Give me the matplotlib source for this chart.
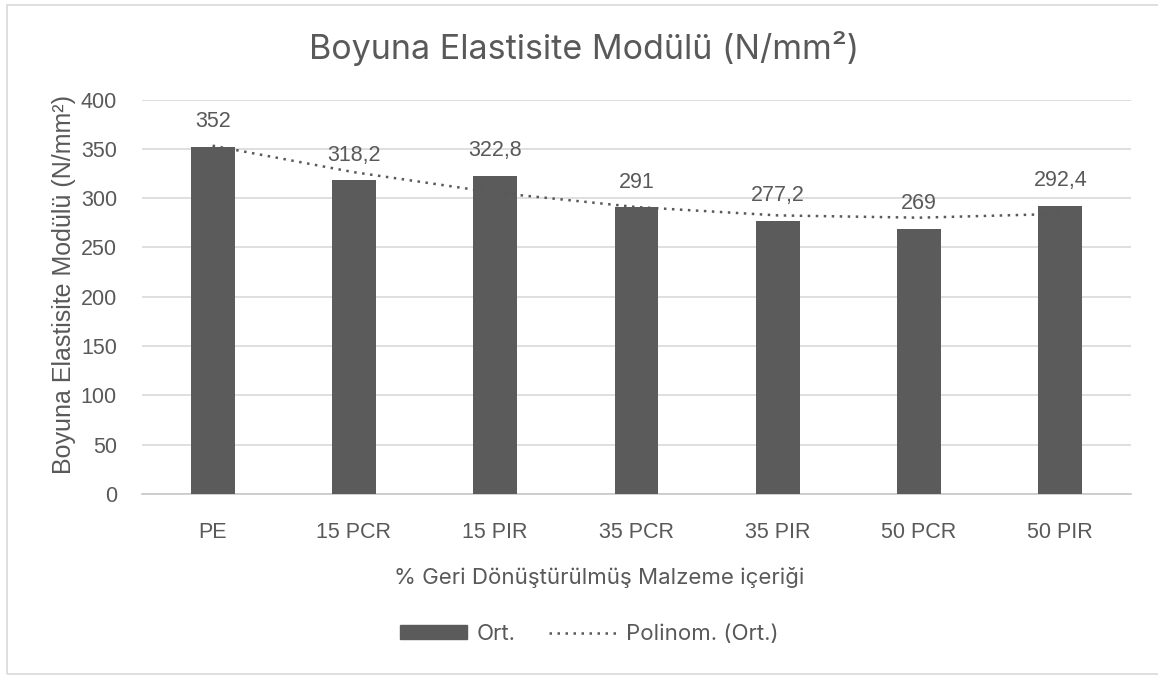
import numpy as np
import matplotlib
matplotlib.use("Agg")
import matplotlib.pyplot as plt
from matplotlib.patches import Rectangle
from matplotlib.lines import Line2D

# Data
categories = ["PE", "15 PCR", "15 PIR", "35 PCR", "35 PIR", "50 PCR", "50 PIR"]
ort_values = [352, 318.2, 322.8, 291, 277.2, 269, 292.4]
value_labels = ["352", "318,2", "322,8", "291", "277,2", "269", "292,4"]
y_ticks = [0, 50, 100, 150, 200, 250, 300, 350, 400]

title_text = "Boyuna Elastisite Modülü (N/mm²)"
y_label_text = "Boyuna Elastisite Modülü (N/mm²)"
x_label_text = "% Geri Dönüştürülmüş Malzeme içeriği"
legend_labels = ["Ort.", "Polinom. (Ort.)"]

TEXT = "#595959"
BAR = "#5b5b5b"
GRID = "#d9d9d9"
UI_FONT = ["Inter", "DejaVu Sans"]
NUM_FONT = ["Liberation Sans", "DejaVu Sans"]

fig = plt.figure(figsize=(11.58, 6.77), dpi=100)
fig.patch.set_facecolor("white")

# chart frame
fig.add_artist(Rectangle((7.5 / 1158, 3 / 677), 1.2, 669 / 677,
                         transform=fig.transFigure, fill=False,
                         edgecolor="#d9d9d9", linewidth=1.2))

ax = fig.add_axes([142 / 1158, 1 - 494 / 677, (1131 - 142) / 1158, (494 - 99.5) / 677])

x = np.arange(1, len(categories) + 1)
ax.bar(x, ort_values, width=0.31, color=BAR, zorder=3)

# second-order polynomial trendline through the averages
coef = np.polyfit(x, ort_values, 2)
trend = np.polyval(coef, x)
ax.plot(x, trend, linestyle=(0, (1, 2.2)), color=TEXT, linewidth=1.8, zorder=4)

for xi, v, lab in zip(x, ort_values, value_labels):
    ax.annotate(lab, (xi, v), xytext=(0, 18), textcoords="offset points",
                ha="center", va="center", fontsize=15.5, color=TEXT,
                family=NUM_FONT, zorder=5)

ax.set_xlim(0.5, len(categories) + 0.5)
ax.set_ylim(0, 400)
ax.set_yticks(y_ticks)
ax.set_xticks(x)
ax.set_xticklabels(categories)
ax.yaxis.grid(True, color=GRID, linewidth=1.2, zorder=0)
ax.set_axisbelow(True)
for side in ["top", "right", "left"]:
    ax.spines[side].set_visible(False)
ax.spines["bottom"].set_color("#c8c8c8")
ax.spines["bottom"].set_linewidth(1.2)
ax.tick_params(axis="both", length=0, labelsize=15.5, labelcolor=TEXT)
ax.tick_params(axis="y", pad=18)
ax.tick_params(axis="x", pad=20)
for lab in ax.get_xticklabels() + ax.get_yticklabels():
    lab.set_family(NUM_FONT)

ax.set_ylabel(y_label_text, fontsize=18, color=TEXT, family=NUM_FONT,
              ha="center", va="center")
ax.yaxis.set_label_coords((64 - 142) / 989, (494 - 285) / 394.5)

fig.text(584 / 1158, 1 - 48 / 677, title_text, ha="center", va="center",
         fontsize=24.5, color=TEXT, family=UI_FONT)
fig.text(599 / 1158, 1 - 577 / 677, x_label_text, ha="center", va="center",
         fontsize=16, color=TEXT, family=UI_FONT)

handles = [Rectangle((0, 0), 1, 1, color=BAR),
           Line2D([0], [0], linestyle=(0, (1, 2.2)), color=TEXT, linewidth=1.8)]
leg = fig.legend(handles, legend_labels, loc="center", bbox_to_anchor=(589 / 1158, 1 - 634 / 677),
                 ncol=2, frameon=False, handlelength=3.0, handleheight=0.6,
                 columnspacing=1.5, handletextpad=0.45, prop={"family": UI_FONT, "size": 16})
for t in leg.get_texts():
    t.set_color(TEXT)

fig.savefig("out.png", dpi=100, facecolor="white")
